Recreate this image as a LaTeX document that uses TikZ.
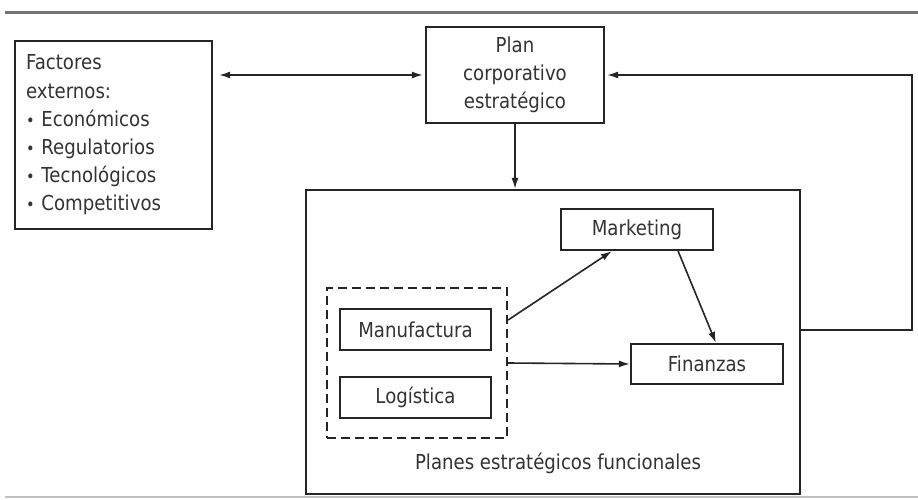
\documentclass[tikz,border=0pt]{standalone}
\usepackage{fontspec}
\setmainfont[FakeStretch=0.88]{DejaVu Sans}
\usetikzlibrary{arrows.meta,calc}
\definecolor{ln}{HTML}{252525}
\definecolor{tx}{HTML}{333333}
\tikzset{
  box/.style={draw=ln, line width=2.2pt, rectangle, inner sep=0pt, text=tx, align=center},
  dbox/.style={draw=ln, line width=2.2pt, rectangle, inner sep=0pt, dash pattern=on 9pt off 5pt},
  arr/.style={draw=ln, line width=1.6pt, -{Latex[length=11pt,width=7pt]}},
  arrtwo/.style={draw=ln, line width=1.6pt, {Latex[length=11pt,width=7pt]}-{Latex[length=11pt,width=7pt]}},
  lbl/.style={text=tx, inner sep=0pt}
}
\newcommand{\bul}{{\scalebox{0.8}{\textbullet}}}
\begin{document}
\begin{tikzpicture}[x=1pt,y=-1pt,font=\fontsize{20.6}{28.2}\selectfont]
\useasboundingbox (0,0) rectangle (918,500);
\fill[white] (0,0) rectangle (918,500);
% rules
\draw[line width=3pt, color=black!55] (5,13) -- (918,13);
\draw[line width=1.5pt, color=black!25] (5,497) -- (918,497);
% nodes
\node[box, minimum width=197pt, minimum height=188pt, text width=175pt, align=left] (fact) at (113.5,135)
  {Factores\\externos:\\\bul\ Económicos\\\bul\ Regulatorios\\\bul\ Tecnológicos\\\bul\ Competitivos};
\node[box, minimum width=178pt, minimum height=96pt] (plan) at (515,75) {Plan\\corporativo\\estratégico};
\node[box, minimum width=494pt, minimum height=304pt] (big) at (553,342) {};
\node[box, minimum width=152pt, minimum height=41pt] (mkt) at (637,229.5) {Marketing};
\node[box, minimum width=152pt, minimum height=40pt] (fin) at (707,364) {Finanzas};
\node[dbox, minimum width=180pt, minimum height=150pt] (dash) at (417,363) {};
\node[box, minimum width=151pt, minimum height=41pt] (man) at (415.5,329.5) {Manufactura};
\node[box, minimum width=151pt, minimum height=41pt] (log) at (415.5,397.5) {Logística};
\node[lbl] (plab) at (558,463) {Planes estratégicos funcionales};
\coordinate (corner) at (912,330);
% connectors
\draw[arrtwo] ([xshift=6pt]fact.east |- plan.west) -- ([xshift=-2pt]plan.west);
\draw[arr] (plan.south) -- (plan.south |- big.north);
\draw[arr] (big.east |- corner) -- (corner) |- ([xshift=2pt]plan.east);
\draw[arr] ($(dash.east)+(0,-43)$) -- ($(mkt.south west)+(52,0)$);
\draw[arr] ($(mkt.south east)+(-36,0)$) -- ($(fin.north west)+(86,0)$);
\draw[arr] (dash.east) -- (fin.west);
\end{tikzpicture}
\end{document}
